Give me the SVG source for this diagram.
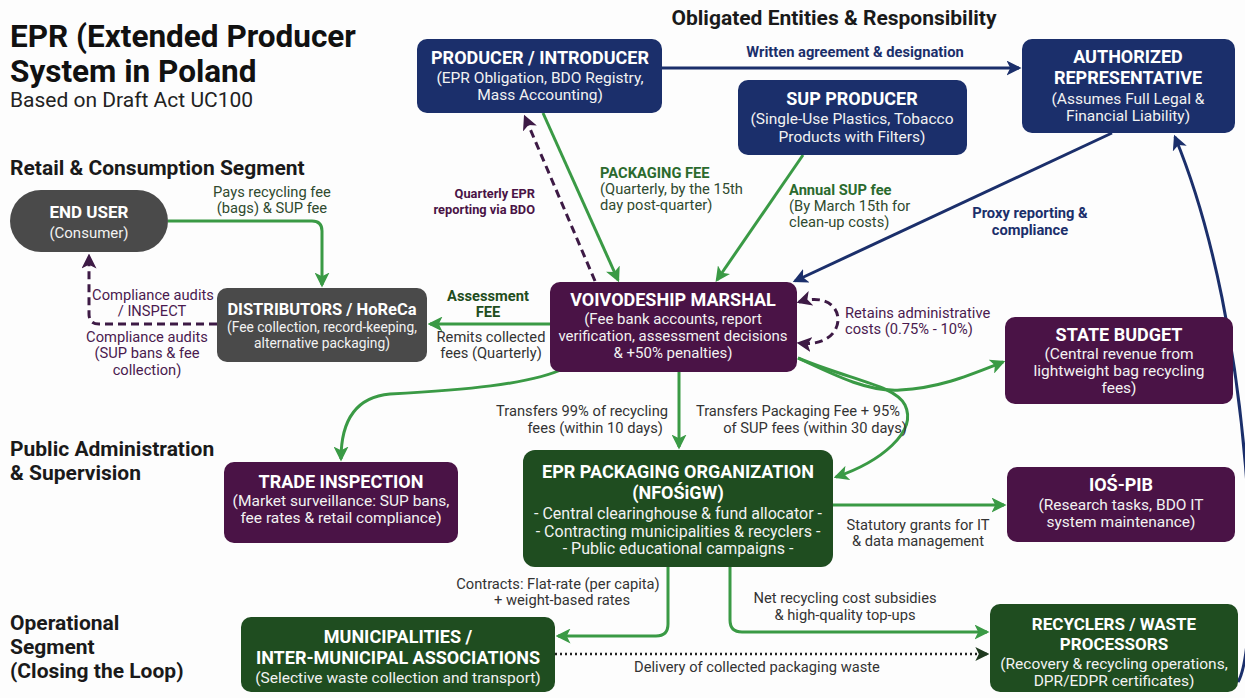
<svg xmlns="http://www.w3.org/2000/svg" width="1245" height="698" viewBox="0 0 1245 698">
  <style>
    text { font-family: Roboto, "Liberation Sans", sans-serif; }
    .h1 { font-size: 31.5px; font-weight: 700; fill: #111; }
    .sub { font-size: 21px; fill: #222; }
    .sec { font-size: 21px; font-weight: 700; fill: #1a1a1a; }
    .nt { font-size: 18px; font-weight: 700; fill: #fff; text-anchor: middle; }
    .nd { font-size: 15.5px; fill: #f2f2f2; text-anchor: middle; }
    .lbl { font-size: 14.7px; }
    .g { fill: #2f4a2f; }
    .gb { fill: #2b6a2e; font-weight: 700; }
    .p { fill: #4a1a4f; }
    .pb { fill: #4a1346; font-weight: 700; }
    .nb { fill: #1b2f6b; font-weight: 700; }
    .k { fill: #333; }
    .mid { text-anchor: middle; }
    .end { text-anchor: end; }
    .navy { fill: #1b2f6b; }
    .purple { fill: #4a1346; }
    .green { fill: #1f4d20; }
    .gray { fill: #4a4a4a; }
    .cg { fill: none; stroke: #3a9a45; stroke-width: 3; marker-end: url(#ag); }
    .cn { fill: none; stroke: #1b2f6b; stroke-width: 3; marker-end: url(#an); }
    .cp { fill: none; stroke: #3d1a45; stroke-width: 3; stroke-dasharray: 8 5; marker-end: url(#ap); }
    .cd { fill: none; stroke: #222; stroke-width: 2.5; stroke-dasharray: 2 3; marker-end: url(#ad); }
  </style>
  <defs>
    <marker id="ag" viewBox="0 0 12 12" refX="10" refY="6" markerWidth="15" markerHeight="15" markerUnits="userSpaceOnUse" orient="auto">
      <path d="M0,0 L12,6 L0,12 L3,6 z" fill="#3a9a45"/>
    </marker>
    <marker id="an" viewBox="0 0 12 12" refX="10" refY="6" markerWidth="15" markerHeight="15" markerUnits="userSpaceOnUse" orient="auto">
      <path d="M0,0 L12,6 L0,12 L3,6 z" fill="#1b2f6b"/>
    </marker>
    <marker id="ap" viewBox="0 0 12 12" refX="10" refY="6" markerWidth="15" markerHeight="15" markerUnits="userSpaceOnUse" orient="auto-start-reverse">
      <path d="M0,0 L12,6 L0,12 L3,6 z" fill="#3d1a45"/>
    </marker>
    <marker id="ad" viewBox="0 0 12 12" refX="10" refY="6" markerWidth="14" markerHeight="14" markerUnits="userSpaceOnUse" orient="auto">
      <path d="M0,0 L12,6 L0,12 L3,6 z" fill="#1f3a1f"/>
    </marker>
  </defs>

  <rect width="1245" height="698" fill="#fdfdfd"/>

  <!-- Headings -->
  <g id="headings">
    <text class="h1" x="10" y="47">EPR (Extended Producer</text>
    <text class="h1" x="10" y="82">System in Poland</text>
    <text class="sub" x="10" y="107">Based on Draft Act UC100</text>
    <text class="sec mid" x="834" y="25">Obligated Entities &amp; Responsibility</text>
    <text class="sec" x="10" y="175">Retail &amp; Consumption Segment</text>
    <text class="sec" x="10" y="456">Public Administration</text>
    <text class="sec" x="10" y="480">&amp; Supervision</text>
    <text class="sec" x="10" y="630">Operational</text>
    <text class="sec" x="10" y="654">Segment</text>
    <text class="sec" x="10" y="678">(Closing the Loop)</text>
  </g>

  <!-- Connectors -->
  <g id="connectors">
    <path class="cn" d="M662,68 H1019"/>
    <path class="cg" d="M543,113 L618,280"/>
    <path class="cp" d="M595,281 L525,117"/>
    <path class="cg" d="M803,155 L717,280"/>
    <path class="cn" d="M1112,133 L795,281"/>
    <path class="cg" d="M168,221 H312 Q322,221 322,231 V285"/>
    <path class="cp" d="M217,324 H99 Q89,324 89,314 V256"/>
    <path class="cg" d="M550,324 H430"/>
    <path class="cp" d="M799,302 C850,286 852,350 799,343" style="marker-start:url(#ap)"/>
    <path class="cg" d="M798,358 C840,378 870,392 900,390 C940,388 970,375 1003,362"/>
    <path class="cg" d="M798,358 C850,380 895,385 905,405 C918,432 880,462 836,477"/>
    <path class="cg" d="M679,372 V447"/>
    <path class="cg" d="M565,368 C530,385 460,390 390,394 C356,397 341,420 341,459"/>
    <path class="cg" d="M833,505 H1004"/>
    <path class="cg" d="M668,567 V624 Q668,636 656,636 H558"/>
    <path class="cg" d="M730,567 V620 Q730,632 742,632 H987"/>
    <path class="cd" d="M555,654 H987"/>
    <path class="cn" d="M1238,682 C1262,640 1255,330 1175,137"/>
  </g>

  <!-- Connector labels -->
  <g id="labels">
    <text class="lbl nb mid" x="855" y="57">Written agreement &amp; designation</text>
    <text class="lbl gb" x="600" y="178">PACKAGING FEE</text>
    <text class="lbl g" x="600" y="194">(Quarterly, by the 15th</text>
    <text class="lbl g" x="600" y="210">day post-quarter)</text>
    <text class="lbl pb end" x="535" y="198" style="font-size:12.8px">Quarterly EPR</text>
    <text class="lbl pb end" x="535" y="214" style="font-size:12.8px">reporting via BDO</text>
    <text class="lbl gb" x="789" y="195">Annual SUP fee</text>
    <text class="lbl g" x="789" y="211">(By March 15th for</text>
    <text class="lbl g" x="789" y="227">clean-up costs)</text>
    <text class="lbl nb mid" x="1030" y="218">Proxy reporting &amp;</text>
    <text class="lbl nb mid" x="1030" y="235">compliance</text>
    <text class="lbl g mid" x="272" y="197">Pays recycling fee</text>
    <text class="lbl g mid" x="272" y="213">(bags) &amp; SUP fee</text>
    <text class="lbl p mid" x="153" y="300">Compliance audits</text>
    <text class="lbl p mid" x="152" y="316">/ INSPECT</text>
    <text class="lbl p mid" x="147" y="342">Compliance audits</text>
    <text class="lbl p mid" x="147" y="358">(SUP bans &amp; fee</text>
    <text class="lbl p mid" x="147" y="375">collection)</text>
    <text class="lbl gb mid" x="488" y="301" style="fill:#1f4d20">Assessment</text>
    <text class="lbl gb mid" x="488" y="317" style="fill:#1f4d20">FEE</text>
    <text class="lbl k mid" x="491" y="342">Remits collected</text>
    <text class="lbl k mid" x="491" y="358">fees (Quarterly)</text>
    <text class="lbl p" x="845" y="318">Retains administrative</text>
    <text class="lbl p" x="845" y="334">costs (0.75% - 10%)</text>
    <text class="lbl k end" x="668" y="416">Transfers 99% of recycling</text>
    <text class="lbl k end" x="663" y="433">fees (within 10 days)</text>
    <text class="lbl k end" x="900" y="416">Transfers Packaging Fee + 95%</text>
    <text class="lbl k end" x="907" y="433">of SUP fees (within 30 days)</text>
    <text class="lbl k mid" x="918" y="530">Statutory grants for IT</text>
    <text class="lbl k mid" x="918" y="546">&amp; data management</text>
    <text class="lbl k mid" x="558" y="589">Contracts: Flat-rate (per capita)</text>
    <text class="lbl k mid" x="562" y="605">+ weight-based rates</text>
    <text class="lbl k mid" x="845" y="603">Net recycling cost subsidies</text>
    <text class="lbl k mid" x="845" y="620">&amp; high-quality top-ups</text>
    <text class="lbl k mid" x="757" y="672">Delivery of collected packaging waste</text>
  </g>

  <!-- Nodes -->
  <g id="producer">
    <rect class="navy" x="417" y="39" width="245" height="74" rx="10"/>
    <text class="nt" x="540" y="64">PRODUCER / INTRODUCER</text>
    <text class="nd" x="540" y="83">(EPR Obligation, BDO Registry,</text>
    <text class="nd" x="540" y="100">Mass Accounting)</text>
  </g>
  <g id="authorized-rep">
    <rect class="navy" x="1022" y="39" width="213" height="94" rx="10"/>
    <text class="nt" x="1128" y="63">AUTHORIZED</text>
    <text class="nt" x="1128" y="84">REPRESENTATIVE</text>
    <text class="nd" x="1128" y="104">(Assumes Full Legal &amp;</text>
    <text class="nd" x="1128" y="121">Financial Liability)</text>
  </g>
  <g id="sup-producer">
    <rect class="navy" x="738" y="80" width="229" height="75" rx="10"/>
    <text class="nt" x="852" y="105">SUP PRODUCER</text>
    <text class="nd" x="852" y="124">(Single-Use Plastics, Tobacco</text>
    <text class="nd" x="852" y="142">Products with Filters)</text>
  </g>
  <g id="end-user">
    <rect class="gray" x="10" y="190" width="158" height="62" rx="31"/>
    <text class="nt" x="89" y="218" style="font-size:17px">END USER</text>
    <text class="nd" x="89" y="238" style="font-size:15px">(Consumer)</text>
  </g>
  <g id="distributors">
    <rect class="gray" x="217" y="288" width="210" height="74" rx="10"/>
    <text class="nt" x="322" y="315" style="font-size:16.5px">DISTRIBUTORS / HoReCa</text>
    <text class="nd" x="322" y="332" style="font-size:13.8px">(Fee collection, record-keeping,</text>
    <text class="nd" x="322" y="348" style="font-size:13.8px">alternative packaging)</text>
  </g>
  <g id="marshal">
    <rect class="purple" x="550" y="282" width="247" height="90" rx="10"/>
    <text class="nt" x="673" y="306">VOIVODESHIP MARSHAL</text>
    <text class="nd" x="673" y="324" style="font-size:15px">(Fee bank accounts, report</text>
    <text class="nd" x="673" y="341" style="font-size:15px">verification, assessment decisions</text>
    <text class="nd" x="673" y="358" style="font-size:15px">&amp; +50% penalties)</text>
  </g>
  <g id="state-budget">
    <rect class="purple" x="1005" y="317" width="228" height="87" rx="10"/>
    <text class="nt" x="1119" y="341">STATE BUDGET</text>
    <text class="nd" x="1119" y="359">(Central revenue from</text>
    <text class="nd" x="1119" y="376">lightweight bag recycling</text>
    <text class="nd" x="1119" y="393">fees)</text>
  </g>
  <g id="trade-inspection">
    <rect class="purple" x="224" y="462" width="234" height="81" rx="10"/>
    <text class="nt" x="341" y="488">TRADE INSPECTION</text>
    <text class="nd" x="341" y="506">(Market surveillance: SUP bans,</text>
    <text class="nd" x="341" y="523">fee rates &amp; retail compliance)</text>
  </g>
  <g id="epr-organization">
    <rect class="green" x="523" y="450" width="310" height="117" rx="12"/>
    <text class="nt" x="678" y="478">EPR PACKAGING ORGANIZATION</text>
    <text class="nt" x="678" y="499">(NFOŚiGW)</text>
    <text class="nd" x="678" y="519" style="font-size:16px">- Central clearinghouse &amp; fund allocator -</text>
    <text class="nd" x="678" y="537" style="font-size:16px">- Contracting municipalities &amp; recyclers -</text>
    <text class="nd" x="678" y="554" style="font-size:16px">- Public educational campaigns -</text>
  </g>
  <g id="ios-pib">
    <rect class="purple" x="1007" y="467" width="228" height="75" rx="10"/>
    <text class="nt" x="1121" y="491">IOŚ-PIB</text>
    <text class="nd" x="1121" y="510">(Research tasks, BDO IT</text>
    <text class="nd" x="1121" y="527">system maintenance)</text>
  </g>
  <g id="municipalities">
    <rect class="green" x="241" y="617" width="314" height="75" rx="10"/>
    <text class="nt" x="398" y="643">MUNICIPALITIES /</text>
    <text class="nt" x="398" y="664">INTER-MUNICIPAL ASSOCIATIONS</text>
    <text class="nd" x="398" y="683">(Selective waste collection and transport)</text>
  </g>
  <g id="recyclers">
    <rect class="green" x="990" y="604" width="248" height="88" rx="10"/>
    <text class="nt" x="1114" y="630" style="font-size:17px">RECYCLERS / WASTE</text>
    <text class="nt" x="1114" y="650" style="font-size:17px">PROCESSORS</text>
    <text class="nd" x="1114" y="669">(Recovery &amp; recycling operations,</text>
    <text class="nd" x="1114" y="686">DPR/EDPR certificates)</text>
  </g>
</svg>
